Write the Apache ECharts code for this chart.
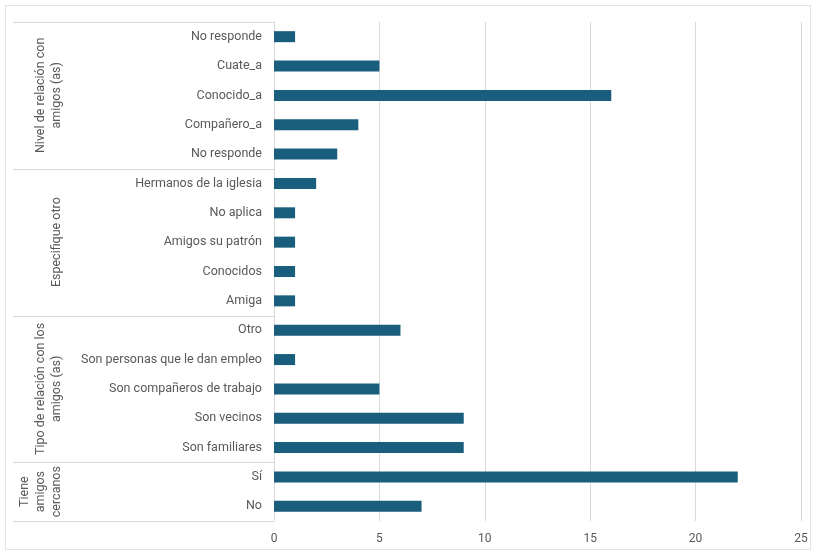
<!DOCTYPE html>
<html>
<head>
<meta charset="utf-8">
<script src="https://cdn.jsdelivr.net/npm/echarts@6/dist/echarts.min.js"></script>
<style>
html,body{margin:0;padding:0;background:#fff;}
#chart{width:815px;height:554px;}
</style>
</head>
<body>
<div id="chart"></div>
<script>
// Data (top to bottom)
const categories = [
  "No responde", "Cuate_a", "Conocido_a", "Compañero_a", "No responde ",
  "Hermanos de la iglesia", "No aplica", "Amigos su patrón", "Conocidos", "Amiga",
  "Otro", "Son personas que le dan empleo", "Son compañeros de trabajo", "Son vecinos", "Son familiares",
  "Sí", "No"
];
const values = [1, 5, 16, 4, 3, 2, 1, 1, 1, 1, 6, 1, 5, 9, 9, 22, 7];
const groupNames = [
  "Nivel de relación con\namigos (as)",
  "Especifique otro",
  "Tipo de relación con los\namigos (as)",
  "Tiene\namigos\ncercanos"
];
const groupSizes = [5, 5, 5, 2];
const xTicks = [0, 5, 10, 15, 20, 25];

const chart = echarts.init(document.getElementById('chart'), null, {renderer: 'canvas'});
const FONT = 'Roboto';
const TXT = '#595959';
const LINE = '#d9d9d9';

const option = {
  animation: false,
  backgroundColor: '#fff',
  grid: { left: 274, right: 14, top: 22, bottom: 33, containLabel: false },
  xAxis: {
    type: 'value',
    min: xTicks[0], max: xTicks[xTicks.length - 1], interval: 5,
    axisLine: { show: false },
    axisTick: { show: false },
    axisLabel: { color: TXT, fontFamily: FONT, fontSize: 12, margin: 12 },
    splitLine: { show: true, lineStyle: { color: LINE, width: 1 } }
  },
  yAxis: {
    type: 'category',
    data: categories,
    inverse: true,
    axisLine: { show: true, lineStyle: { color: LINE, width: 1 } },
    axisTick: { show: false },
    axisLabel: {
      color: TXT, fontFamily: FONT, fontSize: 12.5, margin: 12,
      formatter: v => v.trim()
    },
    splitLine: { show: false }
  },
  series: [{
    type: 'bar',
    data: values,
    barWidth: 11,
    itemStyle: { color: '#1a5e7e' }
  }]
};
chart.setOption(option);

// Group separators and labels, positioned through the axis scale
function buildGraphics() {
  const els = [];
  // outer frame
  els.push({ type: 'rect', shape: { x: 5.5, y: 5.5, width: 805, height: 544 },
    style: { fill: 'none', stroke: '#e3e3e3', lineWidth: 1 }, silent: true });
  const band = chart.convertToPixel({yAxisIndex: 0}, categories[1]) - chart.convertToPixel({yAxisIndex: 0}, categories[0]);
  const x0 = chart.convertToPixel({xAxisIndex: 0}, 0);
  let idx = 0;
  const boundaries = [];
  for (let g = 0; g < groupSizes.length; g++) {
    const first = chart.convertToPixel({yAxisIndex: 0}, categories[idx]);
    const last = chart.convertToPixel({yAxisIndex: 0}, categories[idx + groupSizes[g] - 1]);
    const top = first - band / 2, bottom = last + band / 2;
    if (g === 0) boundaries.push(top);
    boundaries.push(bottom);
    els.push({
      type: 'text',
      x: 65, y: (top + bottom) / 2,
      rotation: Math.PI / 2,
      style: {
        text: groupNames[g], fill: TXT, fontFamily: FONT, fontSize: 12.5,
        lineHeight: 16, align: 'center', verticalAlign: 'bottom'
      },
      silent: true
    });
    idx += groupSizes[g];
  }
  boundaries.forEach(y => {
    const yy = Math.round(y) + 0.5;
    els.push({ type: 'line', shape: { x1: 13, y1: yy, x2: x0, y2: yy },
      style: { stroke: LINE, lineWidth: 1 }, silent: true });
  });
  chart.setOption({ graphic: { elements: els } });
}
buildGraphics();
</script>
</body>
</html>
